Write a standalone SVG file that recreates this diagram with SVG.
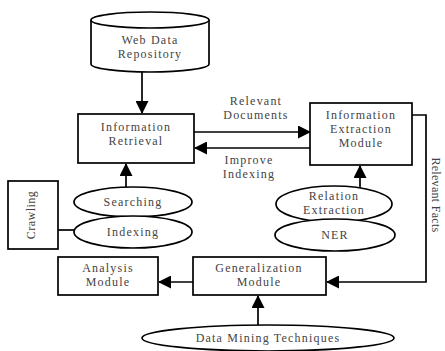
<svg xmlns="http://www.w3.org/2000/svg" width="445" height="351" viewBox="0 0 445 351">
<defs>
<marker id="ah" markerWidth="13" markerHeight="13" refX="12" refY="6.5" orient="auto" markerUnits="userSpaceOnUse">
<path d="M0,0 L13,6.5 L0,13 Z" fill="#000"/>
</marker>
<style>
.s{fill:#fff;stroke:#000;stroke-width:1.7}
.l{fill:none;stroke:#000;stroke-width:1.7}
text{font-family:"Liberation Serif","Times New Roman",serif;font-size:12px;letter-spacing:1.2px;fill:#444;text-anchor:middle}
</style>
</defs>
<rect width="445" height="351" fill="#fff"/>
<g id="connectors">
<line class="l" x1="142" y1="72" x2="142" y2="113" marker-end="url(#ah)"/>
<line class="l" x1="194" y1="132" x2="310" y2="132" marker-end="url(#ah)"/>
<line class="l" x1="310" y1="148" x2="195" y2="148" marker-end="url(#ah)"/>
<line class="l" x1="126" y1="188" x2="126" y2="164" marker-end="url(#ah)"/>
<line class="l" x1="360" y1="188" x2="360" y2="166" marker-end="url(#ah)"/>
<polyline class="l" points="412,115 426,115 426,282 327,282" marker-end="url(#ah)"/>
<line class="l" x1="193" y1="282" x2="159" y2="282" marker-end="url(#ah)"/>
<line class="l" x1="258" y1="325" x2="258" y2="296" marker-end="url(#ah)"/>
<line class="l" x1="58" y1="230" x2="76" y2="230"/>
</g>
<g id="web-data-repository">
<path class="s" d="M91,20 L91,64 A59,8 0 0 0 209,64 L209,20"/>
<ellipse class="s" cx="150" cy="20" rx="59" ry="8"/>
<text x="150" y="44">Web  Data</text>
<text x="150" y="58">Repository</text>
</g>
<g id="information-retrieval">
<rect class="s" x="78" y="114" width="116" height="49"/>
<text x="136" y="131">Information</text>
<text x="136" y="145">Retrieval</text>
</g>
<g id="information-extraction">
<rect class="s" x="310" y="103" width="102" height="62"/>
<text x="361" y="119">Information</text>
<text x="361" y="133">Extraction</text>
<text x="361" y="147">Module</text>
</g>
<g id="edge-labels">
<text x="256" y="105">Relevant</text>
<text x="256" y="119">Documents</text>
<text x="249" y="164">Improve</text>
<text x="249" y="178">Indexing</text>
<text transform="translate(432,195) rotate(90)" style="letter-spacing:0.3px">Relevant Facts</text>
</g>
<g id="crawling">
<rect class="s" x="8" y="181" width="50" height="68"/>
<text transform="translate(35,215) rotate(-90)" style="letter-spacing:0.5px">Crawling</text>
</g>
<g id="searching">
<ellipse class="s" cx="133" cy="202" rx="59" ry="15"/>
<text x="133" y="206">Searching</text>
</g>
<g id="indexing">
<ellipse class="s" cx="133" cy="232" rx="59" ry="16"/>
<text x="133" y="236">Indexing</text>
</g>
<g id="relation-extraction">
<ellipse class="s" cx="334" cy="204" rx="58" ry="18"/>
<text x="334" y="200">Relation</text>
<text x="334" y="214">Extraction</text>
</g>
<g id="ner">
<ellipse class="s" cx="335" cy="235" rx="60" ry="16"/>
<text x="335" y="239">NER</text>
</g>
<g id="analysis-module">
<rect class="s" x="58" y="257" width="100" height="38"/>
<text x="108" y="272">Analysis</text>
<text x="108" y="286">Module</text>
</g>
<g id="generalization-module">
<rect class="s" x="193" y="257" width="133" height="38"/>
<text x="259" y="272">Generalization</text>
<text x="259" y="286">Module</text>
</g>
<g id="data-mining-techniques">
<ellipse class="s" cx="268" cy="338" rx="126" ry="13"/>
<text x="268" y="342">Data Mining Techniques</text>
</g>
</svg>
